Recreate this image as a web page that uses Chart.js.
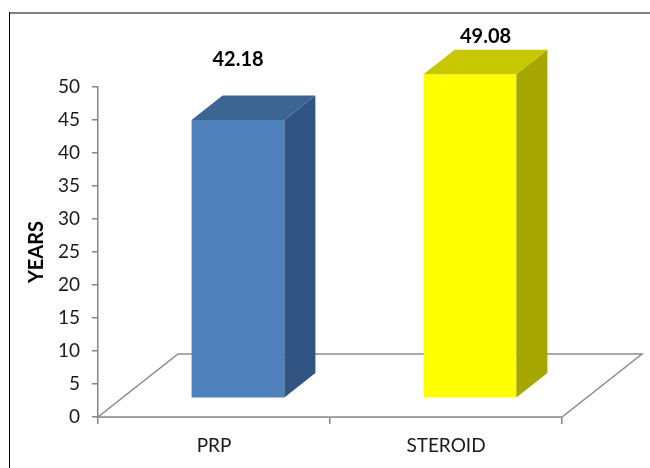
<!DOCTYPE html>
<html>
<head>
<meta charset="utf-8">
<script src="https://cdn.jsdelivr.net/npm/chart.js@4.4.1/dist/chart.umd.min.js"></script>
<style>
  html, body { margin: 0; padding: 0; background: #fff; }
  #wrap { position: relative; width: 650px; height: 468px; }
</style>
</head>
<body>
<div id="wrap"><canvas id="c" width="650" height="468"></canvas></div>
<script>
// Mean age per treatment group
const categories = ['PRP', 'STEROID'];
const meanAge = [42.18, 49.08];
const axisTitle = 'YEARS';
const yMin = 0;
const yMax = 50;
const yStep = 5;

// Face colours for each bar: front, side, top
const faceColors = [
  { front: '#4F81BD', side: '#325482', top: '#3C6591' },
  { front: '#FFFF00', side: '#A6A600', top: '#C8C800' }
];

// Perspective settings for the floor and the bar boxes
const FLOOR_DX = 80, FLOOR_DY = 63;     // floor depth
const BAR_OFF_X = 24, BAR_OFF_Y = 18.7; // bar front plane behind the axis plane
const SIDE_DX = 31, SIDE_DY = 24.5;     // bar depth
const LABEL_GAP = 60, LABEL_MIN_Y = 37;

const frame = {
  id: 'frame',
  beforeDraw(chart) {
    const ctx = chart.ctx;
    ctx.save();
    ctx.fillStyle = '#fff';
    ctx.fillRect(0, 0, chart.width, chart.height);
    ctx.strokeStyle = '#808080';
    ctx.lineWidth = 2;
    ctx.beginPath();
    ctx.moveTo(9, 13);
    ctx.lineTo(chart.width, 13);
    ctx.stroke();
    ctx.strokeStyle = '#000';
    ctx.lineWidth = 1;
    ctx.beginPath();
    ctx.moveTo(9.5, 12);
    ctx.lineTo(9.5, chart.height);
    ctx.stroke();
    ctx.restore();
  }
};

const bars3d = {
  id: 'bars3d',
  beforeDatasetsDraw(chart) {
    const ctx = chart.ctx;
    const xs = chart.scales.x, ys = chart.scales.y;
    const base = ys.getPixelForValue(0);
    // floor in perspective
    ctx.save();
    ctx.beginPath();
    ctx.moveTo(xs.left, base);
    ctx.lineTo(xs.right, base);
    ctx.lineTo(xs.right + FLOOR_DX, base - FLOOR_DY);
    ctx.lineTo(xs.left + FLOOR_DX, base - FLOOR_DY);
    ctx.closePath();
    ctx.fillStyle = '#fff';
    ctx.fill();
    ctx.strokeStyle = '#8c8c8c';
    ctx.lineWidth = 1.5;
    ctx.stroke();
    ctx.restore();
    // front faces are drawn by Chart.js, pushed back onto the floor
    ctx.save();
    ctx.translate(BAR_OFF_X, -BAR_OFF_Y);
  },
  afterDatasetsDraw(chart) {
    const ctx = chart.ctx;
    ctx.restore();
    const meta = chart.getDatasetMeta(0);
    meta.data.forEach((el, i) => {
      const p = el.getProps(['x', 'y', 'base', 'width'], true);
      const L = p.x - p.width / 2 + BAR_OFF_X;
      const R = p.x + p.width / 2 + BAR_OFF_X;
      const T = p.y - BAR_OFF_Y;
      const B = p.base - BAR_OFF_Y;
      const c = faceColors[i % faceColors.length];
      ctx.save();
      // side face
      ctx.beginPath();
      ctx.moveTo(R, T);
      ctx.lineTo(R + SIDE_DX, T - SIDE_DY);
      ctx.lineTo(R + SIDE_DX, B - SIDE_DY);
      ctx.lineTo(R, B);
      ctx.closePath();
      ctx.fillStyle = c.side;
      ctx.fill();
      // top face
      ctx.beginPath();
      ctx.moveTo(L, T);
      ctx.lineTo(R, T);
      ctx.lineTo(R + SIDE_DX, T - SIDE_DY);
      ctx.lineTo(L + SIDE_DX, T - SIDE_DY);
      ctx.closePath();
      ctx.fillStyle = c.top;
      ctx.fill();
      // value label
      let ly = T - LABEL_GAP;
      let lx = (L + R) / 2;
      if (ly < LABEL_MIN_Y) {
        ly = LABEL_MIN_Y;
        lx += SIDE_DX / 2;
      }
      ctx.fillStyle = '#000';
      ctx.font = 'bold 20px Lato, "Open Sans", sans-serif';
      ctx.textAlign = 'center';
      ctx.textBaseline = 'middle';
      ctx.fillText(meanAge[i].toFixed(2), lx, ly);
      ctx.restore();
    });
  }
};

new Chart(document.getElementById('c'), {
  type: 'bar',
  data: {
    labels: categories,
    datasets: [{
      data: meanAge,
      backgroundColor: faceColors.map(c => c.front),
      borderWidth: 0,
      categoryPercentage: 1,
      barPercentage: 0.4,
      clip: false
    }]
  },
  options: {
    responsive: false,
    animation: false,
    devicePixelRatio: 1,
    layout: { padding: { top: 87, left: 0, right: 88, bottom: 0 } },
    plugins: {
      legend: { display: false },
      tooltip: { enabled: false }
    },
    scales: {
      x: {
        afterFit(scale) { scale.height = 51; },
        grid: {
          offset: true,
          drawOnChartArea: false,
          drawTicks: true,
          tickLength: 7,
          color: '#868686',
          lineWidth: 1.5
        },
        border: { display: true, color: '#8c8c8c', width: 1.5 },
        ticks: {
          padding: 10,
          color: '#1a1a1a',
          font: { family: 'Lato, "Open Sans", sans-serif', size: 19 }
        }
      },
      y: {
        min: yMin,
        max: yMax,
        afterFit(scale) { scale.width = 98; },
        grid: {
          drawOnChartArea: false,
          drawTicks: true,
          tickLength: 6,
          color: '#868686',
          lineWidth: 1.5
        },
        border: { display: true, color: '#868686', width: 1.5 },
        ticks: {
          stepSize: yStep,
          padding: 12,
          color: '#1a1a1a',
          font: { family: 'Lato, "Open Sans", sans-serif', size: 19 }
        },
        title: {
          display: true,
          text: axisTitle,
          color: '#000',
          padding: { top: 25, bottom: 0 },
          font: { family: 'Lato, "Open Sans", sans-serif', size: 20, weight: 'bold' }
        }
      }
    }
  },
  plugins: [frame, bars3d]
});
</script>
</body>
</html>
